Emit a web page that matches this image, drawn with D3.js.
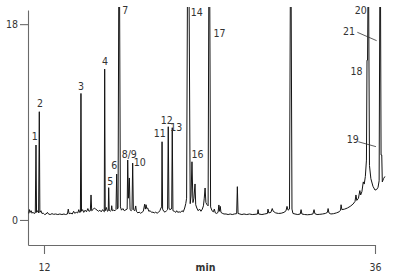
<!DOCTYPE html>
<html>
<head>
<meta charset="utf-8">
<script src="https://cdn.jsdelivr.net/npm/d3@7"></script>
<style>
  html, body { margin: 0; padding: 0; background: #fff; }
  svg { display: block; }
  text { font-family: "Liberation Sans Narrow", "DejaVu Sans Condensed", "Liberation Sans", sans-serif; fill: #333; }
</style>
</head>
<body>
<script>
// chromatogram trace, [time (min), signal]
var trace = [
  [10.90, 0.60], [10.95, 0.95], [11.00, 0.70], [11.07, 0.85], [11.13, 0.62], [11.20, 0.72], [11.27, 0.60],
  [11.37, 0.65], [11.42, 6.89], [11.46, 0.70], [11.53, 0.85], [11.61, 0.65],
  [11.66, 9.95], [11.70, 0.70], [11.78, 0.85], [11.85, 0.60], [11.95, 0.62], [12.05, 0.50], [12.15, 0.55],
  [12.25, 0.70], [12.32, 0.55], [12.45, 0.50], [12.58, 0.58], [12.70, 0.52], [12.85, 0.55], [13.00, 0.50],
  [13.15, 0.55], [13.30, 0.50], [13.45, 0.55], [13.55, 0.50], [13.70, 0.55], [13.76, 1.00], [13.82, 0.58],
  [13.95, 0.62], [14.05, 0.55], [14.15, 0.80], [14.22, 0.62], [14.35, 0.70], [14.45, 0.65], [14.52, 0.95],
  [14.58, 0.70], [14.64, 0.72], [14.68, 11.63], [14.72, 0.80], [14.80, 0.95], [14.88, 0.70], [14.98, 0.90],
  [15.08, 0.75], [15.18, 1.05], [15.26, 0.80], [15.36, 0.85], [15.41, 2.30], [15.46, 0.85], [15.55, 0.95],
  [15.65, 1.10], [15.75, 1.00], [15.85, 0.90], [15.95, 0.80], [16.05, 0.90], [16.15, 0.75], [16.25, 0.95],
  [16.33, 0.80], [16.37, 0.75], [16.40, 13.87], [16.44, 0.85], [16.52, 1.15], [16.60, 0.80],
  [16.66, 0.85], [16.69, 2.97], [16.73, 0.90], [16.80, 0.80], [16.88, 0.90], [16.91, 1.31], [16.95, 0.85],
  [17.05, 0.90], [17.15, 0.85], [17.22, 0.95], [17.27, 4.22], [17.32, 1.00],
  [17.37, 1.10], [17.42, 20.5], [17.48, 20.5], [17.54, 1.20], [17.62, 0.90], [17.72, 1.05], [17.82, 0.85],
  [17.95, 0.95], [18.03, 1.00], [18.07, 5.51], [18.12, 2.00], [18.19, 3.86], [18.24, 0.95], [18.32, 0.85],
  [18.38, 0.95], [18.43, 5.23], [18.48, 0.95], [18.58, 0.85], [18.65, 1.29], [18.70, 0.80], [18.80, 0.65],
  [18.90, 0.72], [19.00, 0.62], [19.10, 0.70], [19.20, 0.80], [19.30, 1.45], [19.35, 1.00], [19.40, 1.40],
  [19.45, 1.05], [19.52, 1.10], [19.60, 0.80], [19.70, 0.85], [19.80, 0.70], [19.90, 0.72], [20.00, 0.65],
  [20.10, 0.72], [20.20, 0.62], [20.30, 0.70], [20.40, 0.85], [20.48, 1.10], [20.53, 1.20], [20.56, 7.19],
  [20.60, 1.00], [20.68, 0.80], [20.78, 0.72], [20.88, 0.85], [20.96, 0.95], [21.01, 8.57], [21.06, 1.10],
  [21.12, 0.95], [21.22, 1.00], [21.26, 1.10], [21.30, 8.48], [21.35, 0.85], [21.45, 0.80], [21.55, 0.70],
  [21.62, 0.85], [21.70, 0.70], [21.80, 0.75], [21.90, 0.70], [22.00, 0.85], [22.10, 0.75], [22.20, 1.10],
  [22.28, 1.50], [22.34, 2.00], [22.40, 20.5], [22.52, 20.5], [22.60, 1.50], [22.66, 2.20], [22.73, 5.35],
  [22.80, 1.60], [22.87, 2.00], [22.95, 3.31], [23.00, 1.40], [23.08, 1.10], [23.18, 0.85], [23.28, 1.00],
  [23.38, 0.80], [23.48, 1.00], [23.56, 1.30], [23.62, 2.00], [23.68, 2.94], [23.74, 1.60], [23.82, 1.40],
  [23.90, 1.30], [23.95, 20.5], [24.02, 20.5], [24.08, 1.20], [24.18, 0.85], [24.28, 0.75], [24.35, 1.00],
  [24.42, 0.65], [24.52, 0.60], [24.62, 0.70], [24.68, 1.38], [24.72, 0.80], [24.78, 1.25], [24.83, 0.70],
  [24.92, 0.62], [25.05, 0.55], [25.20, 0.55], [25.35, 0.50], [25.50, 0.55], [25.65, 0.50], [25.80, 0.55],
  [25.97, 0.58], [26.02, 3.06], [26.07, 0.60], [26.20, 0.55], [26.35, 0.50], [26.50, 0.55], [26.70, 0.50],
  [26.90, 0.55], [27.10, 0.50], [27.30, 0.52], [27.48, 0.55], [27.52, 0.95], [27.57, 0.55], [27.80, 0.50],
  [28.00, 0.55], [28.20, 0.60], [28.24, 1.00], [28.30, 0.65], [28.45, 0.70], [28.55, 1.05], [28.62, 0.80],
  [28.80, 0.65], [29.00, 0.60], [29.20, 0.62], [29.40, 0.70], [29.55, 0.85], [29.62, 1.25], [29.70, 0.90],
  [29.80, 1.00], [29.86, 20.5], [29.92, 20.5], [29.98, 1.00], [30.05, 0.60], [30.20, 0.55], [30.40, 0.50],
  [30.58, 0.55], [30.64, 0.95], [30.70, 0.55], [30.90, 0.50], [31.10, 0.48], [31.30, 0.50], [31.50, 0.55],
  [31.58, 0.95], [31.64, 0.58], [31.80, 0.50], [32.00, 0.52], [32.20, 0.55], [32.40, 0.60], [32.55, 0.70],
  [32.60, 1.05], [32.66, 0.65], [32.80, 0.55], [33.00, 0.58], [33.20, 0.65], [33.40, 0.75], [33.50, 0.90],
  [33.54, 1.40], [33.60, 0.95], [33.80, 1.00], [34.00, 1.10], [34.20, 1.25], [34.40, 1.45], [34.55, 1.70],
  [34.62, 2.30], [34.68, 1.80], [34.80, 2.00], [34.90, 2.70], [34.96, 2.30], [35.05, 2.60], [35.15, 3.50],
  [35.22, 3.30], [35.30, 4.00], [35.38, 5.50], [35.42, 14.69], [35.46, 14.69], [35.49, 20.5], [35.54, 20.5],
  [35.60, 5.00], [35.70, 3.80], [35.85, 3.10], [36.00, 2.75], [36.12, 2.80], [36.22, 3.00], [36.30, 3.60],
  [36.35, 20.5], [36.40, 20.5], [36.44, 5.97], [36.49, 5.97], [36.53, 3.50], [36.62, 3.80], [36.72, 4.00]
];

// peak labels: name, time of label centre, signal level of label baseline
var labelNames  = ['1', '2', '3', '4', '5', '6', '7', '8/9', '10', '11', '12', '13', '14', '16', '17', '18', '19', '20', '21'];
var labelTimes  = [11.33, 11.71, 14.68, 16.42, 16.81, 17.10, 17.89, 18.18, 18.95, 20.39, 20.90, 21.59, 23.07, 23.13, 24.73, 34.66, 34.39, 34.97, 34.11];
var labelLevels = [7.35, 10.38, 11.99, 14.25, 3.17, 4.64, 18.93, 5.70, 4.96, 7.63, 8.82, 8.18, 18.79, 5.70, 16.82, 13.28, 7.08, 18.93, 16.96];

// leader lines for 21 and 19: [t0, v0, t1, v1]
var leaders = [
  [34.72, 17.25, 36.12, 16.48],
  [34.79, 7.19, 36.07, 6.74]
];

var xTicks = [12, 36];
var yTicks = [0, 18];
var xTitle = 'min';

var width = 397, height = 274;

var x = d3.scaleLinear().domain([10.84, 36]).range([28, 375]);
var y = d3.scaleLinear().domain([-2.3, 19.3]).range([245, 10]);

var svg = d3.select('body').append('svg')
    .attr('width', width)
    .attr('height', height);

svg.append('clipPath')
    .attr('id', 'plot-clip')
  .append('rect')
    .attr('x', 28)
    .attr('y', 7)
    .attr('width', width - 28)
    .attr('height', 238);

// axes
var yAxis = svg.append('g')
    .attr('transform', 'translate(28,0)')
    .call(d3.axisLeft(y).tickValues(yTicks).tickSize(8).tickSizeOuter(0).tickPadding(2));

var xAxis = svg.append('g')
    .attr('transform', 'translate(0,245)')
    .call(d3.axisBottom(x).tickValues(xTicks).tickSize(9).tickSizeOuter(0));

svg.selectAll('.domain, .tick line')
    .attr('stroke', '#6a6a6a')
    .attr('stroke-width', 1.1);

yAxis.selectAll('text')
    .attr('font-size', '10.5px')
    .attr('dy', '0.36em')
    .attr('x', -10)
    .style('font-family', null);

xAxis.selectAll('text')
    .attr('font-size', '10.5px')
    .attr('y', 26)
    .attr('dy', 0)
    .style('font-family', null);

svg.selectAll('.tick text').attr('fill', '#333');

svg.append('text')
    .attr('x', (x.range()[0] + x.range()[1]) / 2 + 4)
    .attr('y', 271)
    .attr('text-anchor', 'middle')
    .attr('font-size', '10.5px')
    .attr('font-weight', 'bold')
    .text(xTitle);

// trace
var line = d3.line()
    .x(function(d) { return x(d[0]); })
    .y(function(d) { return y(d[1]); });

svg.append('path')
    .datum(trace)
    .attr('clip-path', 'url(#plot-clip)')
    .attr('fill', 'none')
    .attr('stroke', '#141414')
    .attr('stroke-width', 1)
    .attr('stroke-linejoin', 'round')
    .attr('d', line);

// labels
svg.append('g').selectAll('text')
    .data(labelNames)
    .enter()
    .append('text')
    .attr('x', function(d, i) { return x(labelTimes[i]); })
    .attr('y', function(d, i) { return y(labelLevels[i]); })
    .attr('text-anchor', 'middle')
    .attr('font-size', '10.5px')
    .text(function(d) { return d; });

svg.append('g').selectAll('line')
    .data(leaders)
    .enter()
    .append('line')
    .attr('x1', function(d) { return x(d[0]); })
    .attr('y1', function(d) { return y(d[1]); })
    .attr('x2', function(d) { return x(d[2]); })
    .attr('y2', function(d) { return y(d[3]); })
    .attr('stroke', '#333')
    .attr('stroke-width', 0.8);
</script>
</body>
</html>
